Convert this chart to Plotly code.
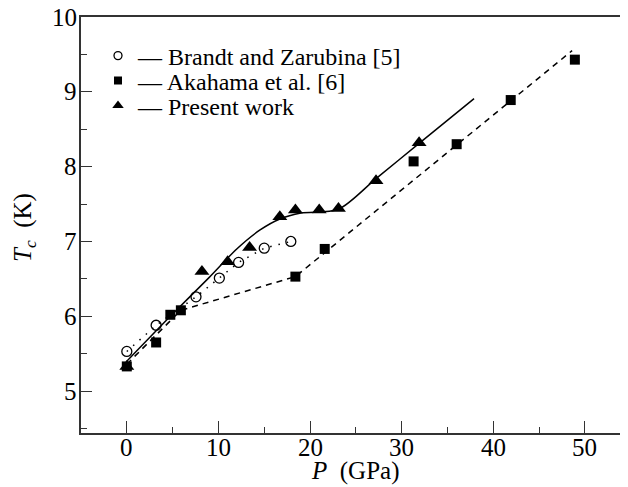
import plotly.graph_objects as go

# Brandt and Zarubina [5] (open circles)
brandt_p = [0, 3.2, 7.55, 10.1, 12.2, 15.0, 17.9]
brandt_t = [5.53, 5.88, 6.26, 6.51, 6.72, 6.91, 7.00]

# Akahama et al. [6] (filled squares)
akahama_p = [0, 3.2, 4.75, 5.9, 18.4, 21.6, 31.3, 36.0, 41.9, 48.9]
akahama_t = [5.33, 5.65, 6.02, 6.08, 6.53, 6.90, 8.07, 8.30, 8.89, 9.43]

# Present work (filled triangles)
present_p = [0, 8.2, 11.0, 13.4, 16.7, 18.4, 21.0, 23.1, 27.2, 31.9]
present_t = [5.33, 6.60, 6.73, 6.92, 7.33, 7.42, 7.42, 7.44, 7.81, 8.32]

# Guide lines drawn in the figure
solid_p = [0, 4.75, 9, 12, 14.5, 16.7, 19, 23.1, 27.2, 32, 37.9]
solid_t = [5.40, 6.00, 6.52, 6.90, 7.15, 7.30, 7.38, 7.43, 7.84, 8.32, 8.91]
dash_p = [0, 5.9, 18.4, 48.6]
dash_t = [5.36, 6.08, 6.53, 9.55]

# Tick labels
x_ticks = [0, 10, 20, 30, 40, 50]
y_ticks = [5, 6, 7, 8, 9, 10]

legend_names = ["\u2014 Brandt and Zarubina [5]", "\u2014 Akahama et al. [6]", "\u2014 Present work"]

FONT = "Liberation Serif, Times New Roman, serif"
TF = dict(family=FONT, size=25, color="black")
fig = go.Figure()

# guide lines
fig.add_trace(go.Scatter(x=brandt_p, y=brandt_t, mode="lines", showlegend=False,
                         line=dict(color="black", width=1.5, dash="1.5px,7px")))
fig.add_trace(go.Scatter(x=dash_p, y=dash_t, mode="lines", showlegend=False,
                         line=dict(color="black", width=1.5, dash="6px,5px")))
fig.add_trace(go.Scatter(x=solid_p, y=solid_t, mode="lines", showlegend=False,
                         line=dict(color="black", width=1.5, shape="spline", smoothing=0.8)))

# data markers
fig.add_trace(go.Scatter(x=brandt_p, y=brandt_t, mode="markers", showlegend=False,
                         marker=dict(symbol="circle-open", size=10, color="black", line=dict(width=1.3))))
fig.add_trace(go.Scatter(x=akahama_p, y=akahama_t, mode="markers", showlegend=False,
                         marker=dict(symbol="square", size=10, color="black")))
fig.add_trace(go.Scatter(x=present_p, y=present_t, mode="markers", showlegend=False,
                         marker=dict(symbol="triangle-up", size=13, color="black")))

# legend-only entries
syms = [dict(symbol="circle-open", size=8, color="black", line=dict(width=1.3)),
        dict(symbol="square", size=8, color="black"),
        dict(symbol="triangle-up", size=10, color="black")]
leg_ids = ["legend", "legend2", "legend3"]
for name, m, lid in zip(legend_names, syms, leg_ids):
    fig.add_trace(go.Scatter(x=[None], y=[None], mode="markers", name=name, marker=m,
                             legend=lid, showlegend=True))

# page body has an 8px margin; compensate so the plot area sits where the reference has it
OFF = 8
W, H = 628 - OFF, 487 - OFF
ML, MT, MB = 81 - OFF, 17 - OFF, 54
plot_h = H - MT - MB
plot_w = W - ML
leg_y = [56, 81, 106]
leg_common = dict(x=(98 - 81) / plot_w, xanchor="left", yanchor="middle",
                  bgcolor="rgba(0,0,0,0)", borderwidth=0, itemwidth=30,
                  font=dict(family=FONT, size=24, color="black"))

annots = []
for v in x_ticks:
    annots.append(dict(x=v, y=0, xref="x", yref="paper", text=str(v), showarrow=False,
                       xanchor="center", yanchor="middle", yshift=-14, font=TF))
for v in y_ticks:
    annots.append(dict(x=0, y=v, xref="paper", yref="y", text=str(v), showarrow=False,
                       xanchor="right", yanchor="middle", xshift=-2, font=TF))
annots.append(dict(x=(355 - 81) / plot_w, y=0, xref="paper", yref="paper", text="<i>P</i>  (GPa)",
                   showarrow=False, xanchor="center", yanchor="middle", yshift=-(471 - 433), font=TF))
annots.append(dict(x=0, y=1 - (228 - 17) / plot_h, xref="paper", yref="paper",
                   text="<i>T<sub>c</sub></i>  (K)", textangle=-90,
                   showarrow=False, xanchor="center", yanchor="middle", xshift=-(81 - 24), font=TF))

fig.update_layout(
    width=W, height=H,
    margin=dict(l=ML, r=0, t=MT, b=MB, autoexpand=False),
    paper_bgcolor="white", plot_bgcolor="white",
    font=dict(family=FONT, size=24, color="black"),
    legend=dict(y=1 - (leg_y[0] - 17) / plot_h, **leg_common),
    legend2=dict(y=1 - (leg_y[1] - 17) / plot_h, **leg_common),
    legend3=dict(y=1 - (leg_y[2] - 17) / plot_h, **leg_common),
    annotations=annots,
    xaxis=dict(range=[-5, 54.7], tick0=0, dtick=10, ticks="inside", ticklen=12, tickwidth=1.2,
               tickcolor="#333", showline=True, linecolor="#333", linewidth=1.5, mirror=True,
               showgrid=False, zeroline=False, automargin=False, showticklabels=False,
               minor=dict(dtick=5, ticks="inside", ticklen=6, tickwidth=1.2, tickcolor="#333", showgrid=False)),
    yaxis=dict(range=[4.44, 10], tick0=5, dtick=1, ticks="inside", ticklen=11, tickwidth=1.2,
               tickcolor="#333", showline=True, linecolor="#333", linewidth=1.5, mirror=False,
               showgrid=False, zeroline=False, automargin=False, showticklabels=False,
               minor=dict(dtick=0.5, ticks="inside", ticklen=6, tickwidth=1.2, tickcolor="#333", showgrid=False)),
)

fig.write_html("out.html")
